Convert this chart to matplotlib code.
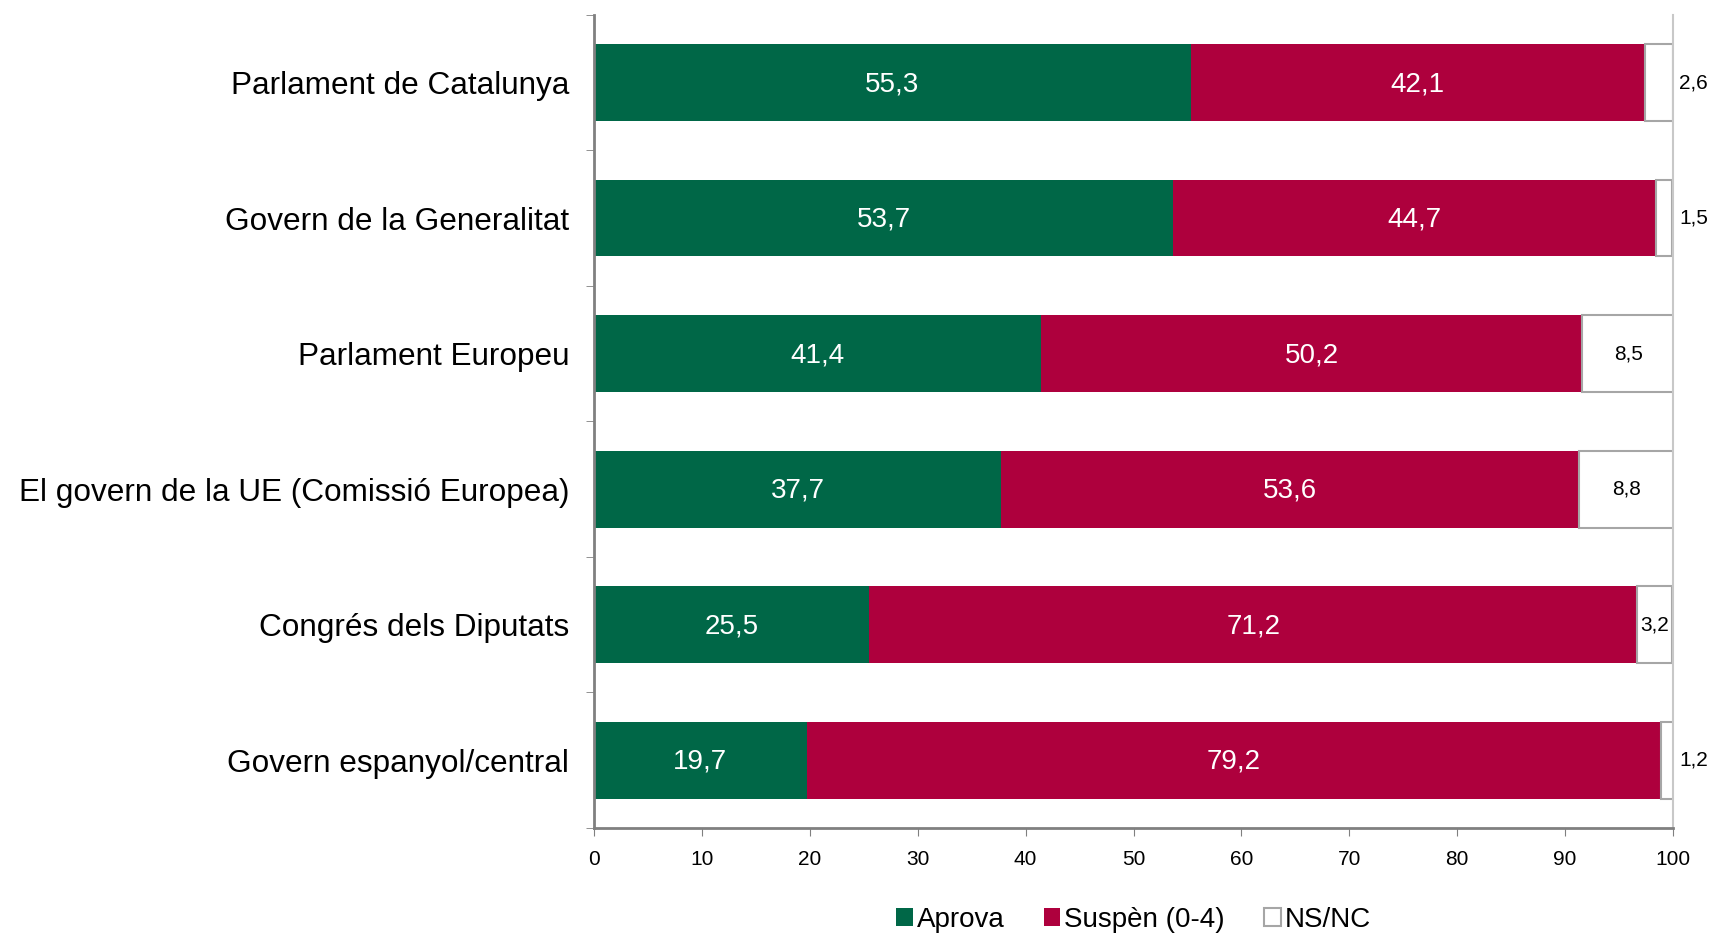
import numpy as np
import matplotlib.pyplot as plt
from matplotlib.ticker import FixedLocator

plt.rcParams['font.family'] = ['Liberation Sans', 'DejaVu Sans']

# Dades
institucions = ["Parlament de Catalunya", "Govern de la Generalitat", "Parlament Europeu",
                "El govern de la UE (Comissió Europea)", "Congrés dels Diputats",
                "Govern espanyol/central"]
aprova = [55.3, 53.7, 41.4, 37.7, 25.5, 19.7]
suspen = [42.1, 44.7, 50.2, 53.6, 71.2, 79.2]
nsnc = [2.6, 1.5, 8.5, 8.8, 3.2, 1.2]

verd = "#006747"
vermell = "#AE003D"

fig = plt.figure(figsize=(17.15, 9.34), dpi=100)
ax = fig.add_axes([0.3464, 0.1135, 0.6291, 0.8705])

y = np.arange(len(institucions))
aprova = np.array(aprova)
suspen = np.array(suspen)
nsnc = np.array(nsnc)
h = 0.565

ax.barh(y, aprova, height=h, color=verd, label="Aprova")
ax.barh(y, suspen, height=h, left=aprova, color=vermell, label="Suspèn (0-4)")
ax.barh(y, nsnc, height=h, left=aprova + suspen, color="white",
        edgecolor="#A6A6A6", linewidth=1.5, label="NS/NC")

def fmt(v):
    return f"{v:.1f}".replace(".", ",")

for i in range(len(y)):
    ax.text(aprova[i] / 2, y[i] + 0.01, fmt(aprova[i]), ha="center", va="center",
            color="white", fontsize=20)
    ax.text(aprova[i] + suspen[i] / 2, y[i] + 0.01, fmt(suspen[i]), ha="center",
            va="center", color="white", fontsize=20)
    if nsnc[i] < 3:
        ax.text(100.6, y[i], fmt(nsnc[i]), ha="left", va="center",
                color="black", fontsize=15, clip_on=False)
    else:
        ax.text(aprova[i] + suspen[i] + nsnc[i] / 2, y[i], fmt(nsnc[i]),
                ha="center", va="center", color="black", fontsize=15)

ax.set_xlim(0, 100)
ax.set_ylim(len(institucions) - 0.5, -0.5)
ax.set_xticks(np.arange(0, 101, 10))
ax.tick_params(axis="x", labelsize=15, length=6, color="#808080", pad=10)

ax.set_yticks(y)
ax.set_yticklabels(institucions, fontsize=22.7)
ax.tick_params(axis="y", which="major", length=0, pad=18)
ax.yaxis.set_minor_locator(FixedLocator(np.arange(-0.5, len(institucions), 1)))
ax.tick_params(axis="y", which="minor", length=6, color="#808080")

ax.spines["top"].set_visible(False)
ax.spines["left"].set_color("#808080")
ax.spines["left"].set_linewidth(2)
ax.spines["bottom"].set_color("#808080")
ax.spines["bottom"].set_linewidth(2)
ax.spines["right"].set_color("#C8C8C8")
ax.spines["right"].set_linewidth(1.5)

leg = ax.legend(loc="lower center", bbox_to_anchor=(0.5, -0.16), ncol=3,
                frameon=False, fontsize=20, handlelength=0.6, handleheight=0.6,
                handletextpad=0.15, columnspacing=1.4)

fig.savefig("out.png", dpi=100)
